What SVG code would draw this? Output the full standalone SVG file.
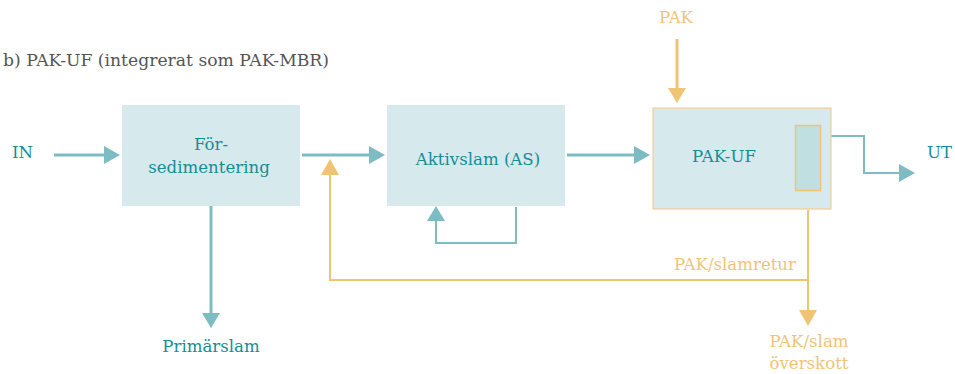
<svg xmlns="http://www.w3.org/2000/svg" width="955" height="374" viewBox="0 0 955 374">
<style>
text{font-family:"DejaVu Serif","Liberation Serif",serif;font-size:16.6px}
.t{fill:#158d96}
.o{fill:#f0c478}
.g{fill:#555555;font-size:17.2px}
.box{fill:#d6e9ed}
.lt{fill:none;stroke:#7dbcc2;stroke-width:3}
.lt2{fill:none;stroke:#7dbcc2;stroke-width:2}
.lo{fill:none;stroke:#f0c472;stroke-width:2}
.lo3{fill:none;stroke:#f0c472;stroke-width:3}
.ht{fill:#7dbcc2}
.ho{fill:#f0c472}
</style>
<rect width="955" height="374" fill="#ffffff"/>
<text class="g" x="3" y="66">b) PAK-UF (integrerat som PAK-MBR)</text>

<g id="connectors">
  <!-- IN -> Forsed -->
  <line class="lt" x1="54" y1="155" x2="105" y2="155"/>
  <polygon class="ht" points="104,146 120,155 104,164"/>
  <!-- Forsed -> AS -->
  <line class="lt" x1="302" y1="155" x2="370" y2="155"/>
  <polygon class="ht" points="369,146 385,155 369,164"/>
  <!-- AS -> PAK-UF -->
  <line class="lt" x1="567" y1="155" x2="635" y2="155"/>
  <polygon class="ht" points="634,146 650,155 634,164"/>
  <!-- Primarslam -->
  <line class="lt" x1="211" y1="206" x2="211" y2="314"/>
  <polygon class="ht" points="202,313 220,313 211,328"/>
  <!-- AS recirculation -->
  <polyline class="lt2" points="516,207 516,243 436,243 436,220"/>
  <polygon class="ht" points="427,221 445,221 436,206"/>
  <!-- UT -->
  <polyline class="lt2" points="821,136 864,136 864,173 900,173"/>
  <polygon class="ht" points="899,164 915,173 899,182"/>
  <!-- PAK dosing -->
  <line class="lo3" x1="677" y1="39" x2="677" y2="89"/>
  <polygon class="ho" points="668,88 686,88 677,103"/>
  <!-- sludge return / excess -->
  <polyline class="lo" points="808,210 808,280 330,280 330,174"/>
  <polygon class="ho" points="321,175 339,175 330,159"/>
  <line class="lo" x1="808" y1="280" x2="808" y2="311"/>
  <polygon class="ho" points="799,310 817,310 808,326"/>
</g>

<g id="in"><text class="t" x="12" y="158">IN</text></g>

<g id="forsed">
  <rect class="box" x="122" y="105" width="178" height="101"/>
  <text class="t" x="211" y="150" text-anchor="middle">För-</text>
  <text class="t" x="209" y="173" text-anchor="middle">sedimentering</text>
</g>

<g id="as">
  <rect class="box" x="387" y="105" width="178" height="101"/>
  <text class="t" x="478" y="165" text-anchor="middle">Aktivslam (AS)</text>
</g>

<g id="pakuf">
  <rect class="box" x="653" y="108" width="178" height="101" stroke="#f5cf8a" stroke-width="1.2"/>
  <text class="t" x="724" y="162" text-anchor="middle">PAK-UF</text>
  <rect x="795.5" y="125.5" width="25" height="65" fill="#bfdfe1" stroke="#f0c472" stroke-width="1.5"/>
</g>

<g id="pak"><text class="o" x="676" y="23" text-anchor="middle">PAK</text></g>
<g id="ut"><text class="t" x="927" y="158">UT</text></g>
<g id="primarslam"><text class="t" x="211" y="352" text-anchor="middle">Primärslam</text></g>
<g id="slamretur"><text class="o" x="796" y="270" text-anchor="end">PAK/slamretur</text></g>
<g id="overskott">
  <text class="o" x="809" y="347" text-anchor="middle">PAK/slam</text>
  <text class="o" x="809" y="369" text-anchor="middle">överskott</text>
</g>
</svg>
